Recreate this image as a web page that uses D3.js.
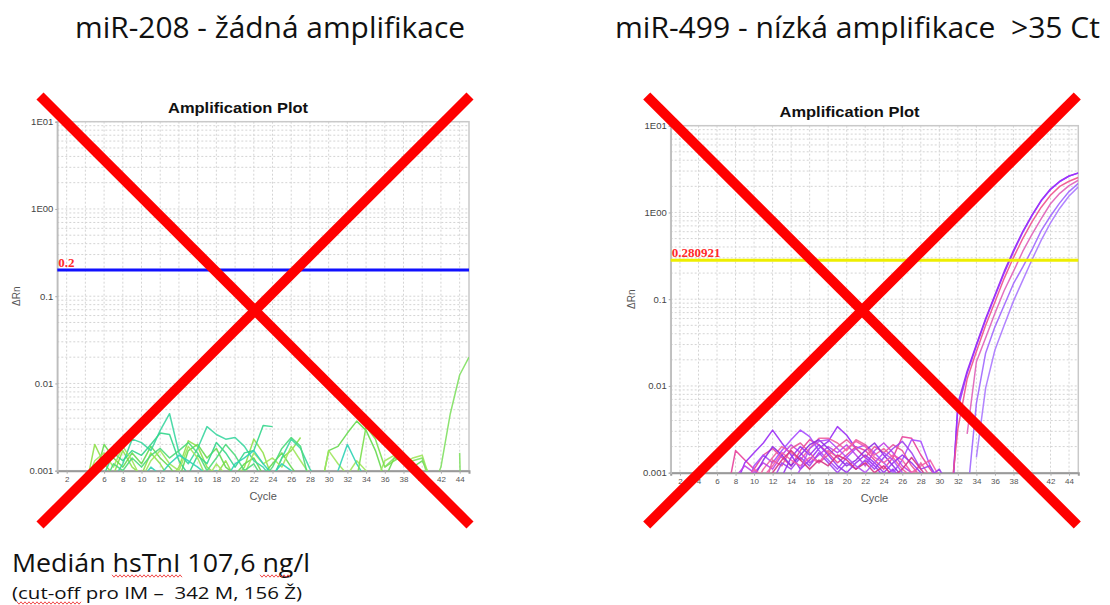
<!DOCTYPE html>
<html>
<head>
<meta charset="utf-8">
<script src="https://cdn.jsdelivr.net/npm/d3@7"></script>
<style>
  html, body { margin: 0; padding: 0; background: #fff; }
  svg { display: block; }
  text { white-space: pre; }
</style>
</head>
<body>
<svg id="slide" width="1110" height="605"></svg>
<script>
// ---------- axis definitions ----------
const cycleDomain = [1, 45];
const cycleTicks = [2, 4, 6, 8, 10, 12, 14, 16, 18, 20, 22, 24, 26, 28, 30, 32, 34, 36, 38, 40, 42, 44];
const rnDomain = [0.001, 10];
const rnTicks = [10, 1, 0.1, 0.01, 0.001];
const rnTickLabels = ["1E01", "1E00", "0.1", "0.01", "0.001"];

// ---------- miR-208 (no amplification) : ΔRn per cycle, first cycle given separately ----------
const miR208Threshold = 0.2;
const miR208Start = [4, 5, 7, 6, 4, 6, 10, 33, 36, 44];
const miR208Wells = [
  [0.0006, 0.0020, 0.0012, 0.0009, 0.0017, 0.0011, 0.0009, 0.0016, 0.0012, 0.0008, 0.0011, 0.0022, 0.0019, 0.0011, 0.0009, 0.0013, 0.0008, 0.0011, 0.0023, 0.0016, 0.0008, 0.0014, 0.0017, 0.0024],
  [0.0008, 0.0020, 0.0014, 0.0011, 0.0016, 0.0012, 0.0019, 0.0014, 0.0011, 0.0008, 0.0017, 0.0020, 0.0014, 0.0018, 0.0011, 0.0009, 0.0012, 0.0014, 0.0009, 0.0012, 0.0016, 0.0011, 0.0008, null, 0.0005, 0.0017, 0.0019, 0.0027, 0.0037, 0.0029, 0.0017, 0.0008, 0.0014, 0.0016, 0.0011, 0.0013, 0.0008],
  [0.0008, 0.0012, 0.0023, 0.0021, 0.0017, 0.0029, 0.0045, 0.0016, 0.0012, 0.0018, 0.0032, 0.0026, 0.0023, 0.0024, 0.0019, 0.0013, 0.0011, 0.0008, 0.0014, 0.0023, 0.0018, 0.00105, 0.0007],
  [0.0009, 0.0016, 0.0013, 0.0017, 0.0015, 0.0020, 0.0027, 0.0026, 0.0013, 0.0009, 0.0015, 0.0012, 0.0021, 0.0016, 0.0011, 0.0016, 0.0017, 0.0033, 0.0032],
  [0.0007, 0.0013, 0.0016, 0.0011, 0.0019, 0.0013, 0.0008, 0.0013, 0.0017, 0.0012, 0.0010, 0.0019, 0.0014, 0.0008, 0.0012, 0.0009, 0.0006, 0.0009, 0.0016, 0.0012, 0.0014, 0.0011, 0.0019, 0.0013, 0.0009, 0.0005, 0.0017, 0.0012, 0.0009, 0.0013, 0.0010, 0.0007, 0.0013, 0.0015, 0.0012, 0.0014, 0.0015, 0.0007],
  [0.0007, 0.0012, 0.0010, 0.0014, 0.0011, 0.0015, 0.0018, 0.0014, 0.0017, 0.0021, 0.0016, 0.0010, 0.0014, 0.0020, 0.0015, 0.0010, 0.0012, 0.0008, 0.0011, 0.0018, 0.0024, 0.0019, 0.0007],
  [0.0008, 0.0011, 0.0009, 0.0012, 0.0015, 0.0013, 0.0011, 0.0009, 0.0010, 0.0008, 0.0012, 0.0014, 0.0017, 0.0012, 0.0009, 0.0012, 0.0010, 0.0008, null, null, 0.0007, 0.0010, 0.0020, 0.0012, 0.0008],
  [0.0008, 0.0032, 0.0023, 0.0011, 0.0013, 0.0015, 0.0010],
  [0.0011, 0.0014, 0.0013, 0.0013, 0.0014, 0.0006, 0.0011, 0.0045, 0.0125, 0.020],
  [0.0016, 0.0000001]
];
const miR208Colors = ["#8fe04a", "#66d94f", "#3ad6a0", "#33d68c", "#9ee55c", "#4cd97a", "#2fd3b5", "#7adf4c", "#7fe060", "#7fe060"];

// ---------- miR-499 (late amplification) ----------
const miR499Threshold = 0.280921;
const miR499Start = [7, 8, 9, 10, 8, 11, 10, 12, 9, 13, 11, 14, 31, 31, 31, 31, 31, 31];
const miR499Wells = [
  [0.0005, 0.0018, 0.0014, 0.0011, 0.0016, 0.0019, 0.0015, 0.0012, 0.0018, 0.0024, 0.0021, 0.0017, 0.0013, 0.0016, 0.0020, 0.0018, 0.0014, 0.0011, 0.0015, 0.0026, 0.0025, 0.0016, 0.0011, 0.0008, 0.0005],
  [0.0007, 0.0013, 0.0017, 0.0022, 0.0031, 0.0022, 0.0016, 0.0011, 0.0014, 0.0019, 0.0023, 0.0034, 0.0027, 0.0019, 0.0015, 0.0012, 0.0009, 0.0011, 0.0008],
  [0.0006, 0.0012, 0.0016, 0.0013, 0.0018, 0.0024, 0.0031, 0.0026, 0.0018, 0.0014, 0.0011, 0.0015, 0.0019, 0.0021, 0.0017, 0.0013, 0.0010, 0.0014, 0.0024, 0.0023, 0.0012, 0.0007],
  [0.0007, 0.0011, 0.0015, 0.0020, 0.0017, 0.0014, 0.0019, 0.0025, 0.0025, 0.0022, 0.0018, 0.0024, 0.0021, 0.0016, 0.0019, 0.0015, 0.0011, 0.0009, 0.0013, 0.0009],
  [0.0009, 0.0012, 0.0010, 0.0013, 0.0011, 0.0016, 0.0021, 0.0017, 0.0013, 0.0016, 0.0020, 0.0017, 0.0021, 0.0016, 0.0012, 0.0018, 0.0022, 0.0017, 0.0012, 0.0010, 0.0007],
  [0.0006, 0.0014, 0.0012, 0.0019, 0.0022, 0.0017, 0.0013, 0.0016, 0.0020, 0.0024, 0.0019, 0.0015, 0.0020, 0.0017, 0.0021, 0.0018, 0.0012, 0.0009],
  [0.0009, 0.0014, 0.0020, 0.0016, 0.0012, 0.0016, 0.0021, 0.0024, 0.0019, 0.0015, 0.0012, 0.0014, 0.0018, 0.0022, 0.0016, 0.0012, 0.0009],
  [0.0008, 0.0013, 0.0011, 0.0015, 0.0012, 0.0017, 0.0013, 0.0010, 0.0013, 0.0011, 0.0014, 0.0011, 0.0015, 0.0019, 0.0023, 0.0017, 0.0011, 0.0012, 0.0008],
  [0.0008, 0.0011, 0.0009, 0.0012, 0.0017, 0.0014, 0.0012, 0.0015, 0.0013, 0.0018, 0.0015, 0.0019, 0.0023, 0.0020, 0.0015, 0.0013, 0.0016, 0.0014, 0.0010, 0.0012, 0.0014, 0.0009],
  [0.0009, 0.0015, 0.0020, 0.0016, 0.0021, 0.0016, 0.0012, 0.0010, 0.0013, 0.0016, 0.0013, 0.0010, 0.0013, 0.0016, 0.0013, 0.0010, 0.0009, 0.0011, 0.0007],
  [0.0008, 0.0010, 0.0014, 0.0018, 0.0014, 0.0011, 0.0014, 0.0012, 0.0016, 0.0014, 0.0011, 0.0013, 0.0010, 0.0012, 0.0009, 0.0011, 0.0015, 0.0011, 0.0008],
  [0.0007, 0.0011, 0.0019, 0.0023, 0.0024, 0.0019, 0.0015, 0.0012, 0.0010, 0.0013, 0.0017, 0.0014, 0.0010, 0.0008],
  // amplifying wells, cycles 31–45
  [0.0001, 0.0063, 0.0148, 0.030, 0.060, 0.112, 0.209, 0.363, 0.603, 0.933, 1.38, 1.86, 2.29, 2.63, 2.86],
  [0.00015, 0.0055, 0.014, 0.029, 0.058, 0.108, 0.200, 0.350, 0.590, 0.920, 1.36, 1.84, 2.27, 2.62, 2.84],
  [0.0003, 0.0032, 0.012, 0.025, 0.050, 0.093, 0.174, 0.302, 0.500, 0.780, 1.15, 1.58, 2.00, 2.29, 2.53],
  [null, null, 0.0028, 0.019, 0.036, 0.069, 0.126, 0.209, 0.355, 0.560, 0.850, 1.26, 1.66, 2.04, 2.35],
  [null, null, 0.0005, 0.0063, 0.024, 0.048, 0.085, 0.151, 0.234, 0.372, 0.617, 0.910, 1.29, 1.74, 2.16],
  [null, null, null, 0.0015, 0.0095, 0.026, 0.050, 0.095, 0.165, 0.285, 0.480, 0.760, 1.12, 1.55, 1.97]
];
const miR499Colors = ["#e8409a", "#9a2cf5", "#a64dff", "#f0609e", "#c040e8", "#e8559a", "#8e2de2", "#a040f0", "#f25ca8", "#9933ee", "#d63384", "#b24cf5",
                      "#9428f0", "#9a30ff", "#f0508c", "#e060b8", "#a066ff", "#aa77ff"];

// ---------- slide text ----------
const headings = ["miR-208 - žádná amplifikace", "miR-499 - nízká amplifikace  >35 Ct"];
const noteMain = "Medián hsTnI 107,6 ng/l";
const noteSub = "(cut-off pro IM –  342 M, 156 Ž)";

const svg = d3.select("#slide");
const defs = svg.append("defs");

function drawPanel(cfg) {
  const x = d3.scaleLinear().domain(cycleDomain).range([cfg.left, cfg.right]);
  const y = d3.scaleLog().domain(rnDomain).range([cfg.bottom, cfg.top]);
  const g = svg.append("g");

  defs.append("clipPath").attr("id", cfg.id + "-clip")
    .append("rect")
    .attr("x", cfg.left).attr("y", cfg.top)
    .attr("width", cfg.right - cfg.left).attr("height", cfg.bottom - cfg.top);

  // dotted grid: log minor ticks and every other cycle
  g.append("g").selectAll("line").data(y.ticks()).join("line")
    .attr("x1", cfg.left).attr("x2", cfg.right)
    .attr("y1", d => y(d)).attr("y2", d => y(d))
    .attr("stroke", "#d4d4d4").attr("stroke-width", 1).attr("stroke-dasharray", "2,2");
  g.append("g").selectAll("line").data(cycleTicks).join("line")
    .attr("x1", d => x(d)).attr("x2", d => x(d))
    .attr("y1", cfg.top).attr("y2", cfg.bottom)
    .attr("stroke", "#d4d4d4").attr("stroke-width", 1).attr("stroke-dasharray", "2,2");

  // frame
  g.append("rect")
    .attr("x", cfg.left).attr("y", cfg.top)
    .attr("width", cfg.right - cfg.left).attr("height", cfg.bottom - cfg.top)
    .attr("fill", "none").attr("stroke", "#c9c9c9").attr("stroke-width", 1.5);

  // axes
  const xAxis = g.append("g").attr("transform", `translate(0,${cfg.bottom})`)
    .call(d3.axisBottom(x).tickValues(cycleTicks).tickSize(3).tickPadding(3).tickFormat(d => String(d)));
  xAxis.select(".domain").attr("stroke", "#9a9a9a").attr("stroke-width", 2);
  xAxis.selectAll(".tick line").attr("stroke", "#aaa");
  xAxis.selectAll(".tick text").attr("font-family", "Liberation Sans, Arial, sans-serif")
    .attr("font-size", 8).attr("fill", "#555");

  const yAxis = g.append("g").attr("transform", `translate(${cfg.left},0)`)
    .call(d3.axisLeft(y).tickValues(rnTicks).tickSize(2).tickPadding(2)
      .tickFormat(d => rnTickLabels[rnTicks.indexOf(d)]));
  yAxis.select(".domain").attr("stroke", "#bdbdbd").attr("stroke-width", 1.5);
  yAxis.selectAll(".tick line").attr("stroke", "#aaa");
  yAxis.selectAll(".tick text").attr("font-family", "Liberation Sans, Arial, sans-serif")
    .attr("font-size", 9.5).attr("fill", "#444");

  // titles
  g.append("text").attr("x", cfg.titleX).attr("y", cfg.top - 9)
    .attr("text-anchor", "middle").attr("font-family", "Liberation Sans, Arial, sans-serif")
    .attr("font-weight", "bold").attr("font-size", 15).attr("fill", "#111")
    .attr("textLength", 140).attr("lengthAdjust", "spacingAndGlyphs")
    .text("Amplification Plot");
  g.append("text").attr("x", (cfg.left + cfg.right) / 2).attr("y", cfg.bottom + 29)
    .attr("text-anchor", "middle").attr("font-family", "Liberation Sans, Arial, sans-serif")
    .attr("font-size", 11).attr("fill", "#555").text("Cycle");
  g.append("text")
    .attr("transform", `translate(${cfg.yLabelX},${y(0.1)}) rotate(-90)`)
    .attr("text-anchor", "middle").attr("font-family", "Liberation Sans, Arial, sans-serif")
    .attr("font-size", 10).attr("fill", "#555").text("ΔRn");

  // amplification traces
  const line = d3.line()
    .defined(d => d[1] != null)
    .x(d => x(d[0])).y(d => y(d[1]));
  const traces = cfg.wells.map((vals, i) => vals.map((v, k) => [cfg.start[i] + k, v]));
  g.append("g").attr("clip-path", `url(#${cfg.id}-clip)`)
    .selectAll("path").data(traces).join("path")
    .attr("d", line)
    .attr("fill", "none")
    .attr("stroke", (d, i) => cfg.colors[i])
    .attr("stroke-width", 1.5)
    .attr("stroke-opacity", 0.9)
    .attr("stroke-linejoin", "round");

  // threshold
  g.append("line")
    .attr("x1", cfg.left).attr("x2", cfg.right)
    .attr("y1", y(cfg.threshold)).attr("y2", y(cfg.threshold))
    .attr("stroke", cfg.thresholdColor).attr("stroke-width", 3);
  g.append("text")
    .attr("x", cfg.left + 1).attr("y", y(cfg.threshold) - 3)
    .attr("font-family", "Liberation Serif, Times New Roman, serif")
    .attr("font-weight", "bold").attr("font-size", 13).attr("fill", "#ff2a2a")
    .text(String(cfg.threshold));

  // crossed-out overlay
  const cross = cfg.cross;
  g.append("g").selectAll("line")
    .data([[cross[0], cross[1], cross[2], cross[3]], [cross[2], cross[1], cross[0], cross[3]]])
    .join("line")
    .attr("x1", d => d[0]).attr("y1", d => d[1]).attr("x2", d => d[2]).attr("y2", d => d[3])
    .attr("stroke", "#ff0000").attr("stroke-width", 10).attr("stroke-linecap", "butt");
}

drawPanel({
  id: "mir208", left: 57.3, right: 469, top: 121.7, bottom: 470.7,
  titleX: 238, yLabelX: 20,
  start: miR208Start, wells: miR208Wells, colors: miR208Colors,
  threshold: miR208Threshold, thresholdColor: "#1010ff",
  cross: [40, 96, 470, 525]
});
drawPanel({
  id: "mir499", left: 670.7, right: 1078.3, top: 125.7, bottom: 472.7,
  titleX: 849.5, yLabelX: 635,
  start: miR499Start, wells: miR499Wells, colors: miR499Colors,
  threshold: miR499Threshold, thresholdColor: "#eeee00",
  cross: [646.7, 96, 1077.3, 525]
});

// headings
svg.append("g").selectAll("text").data(headings).join("text")
  .attr("x", (d, i) => [75, 615][i]).attr("y", 38)
  .attr("font-family", "Open Sans, sans-serif").attr("font-size", 29).attr("fill", "#111")
  .attr("textLength", (d, i) => [390, 485][i]).attr("lengthAdjust", "spacingAndGlyphs")
  .text(d => d);

// footnote
svg.append("text").attr("x", 12).attr("y", 572)
  .attr("font-family", "Open Sans, sans-serif").attr("font-size", 25).attr("fill", "#111")
  .attr("textLength", 298).attr("lengthAdjust", "spacingAndGlyphs").text(noteMain);
svg.append("text").attr("x", 12).attr("y", 599)
  .attr("font-family", "Open Sans, sans-serif").attr("font-size", 16.5).attr("fill", "#111")
  .attr("textLength", 290).attr("lengthAdjust", "spacingAndGlyphs").text(noteSub);

// spell-check squiggles under a few words
function squiggle(x0, x1, yy) {
  const pts = d3.range(x0, x1 + 0.01, 2).map((px, k) => [px, yy + (k % 2 ? 1.2 : -1.2)]);
  svg.append("path").attr("d", d3.line()(pts))
    .attr("fill", "none").attr("stroke", "#e33").attr("stroke-width", 0.9);
}
squiggle(112, 182, 576);
squiggle(260, 290, 576);
squiggle(17, 82, 603);
</script>
</body>
</html>
